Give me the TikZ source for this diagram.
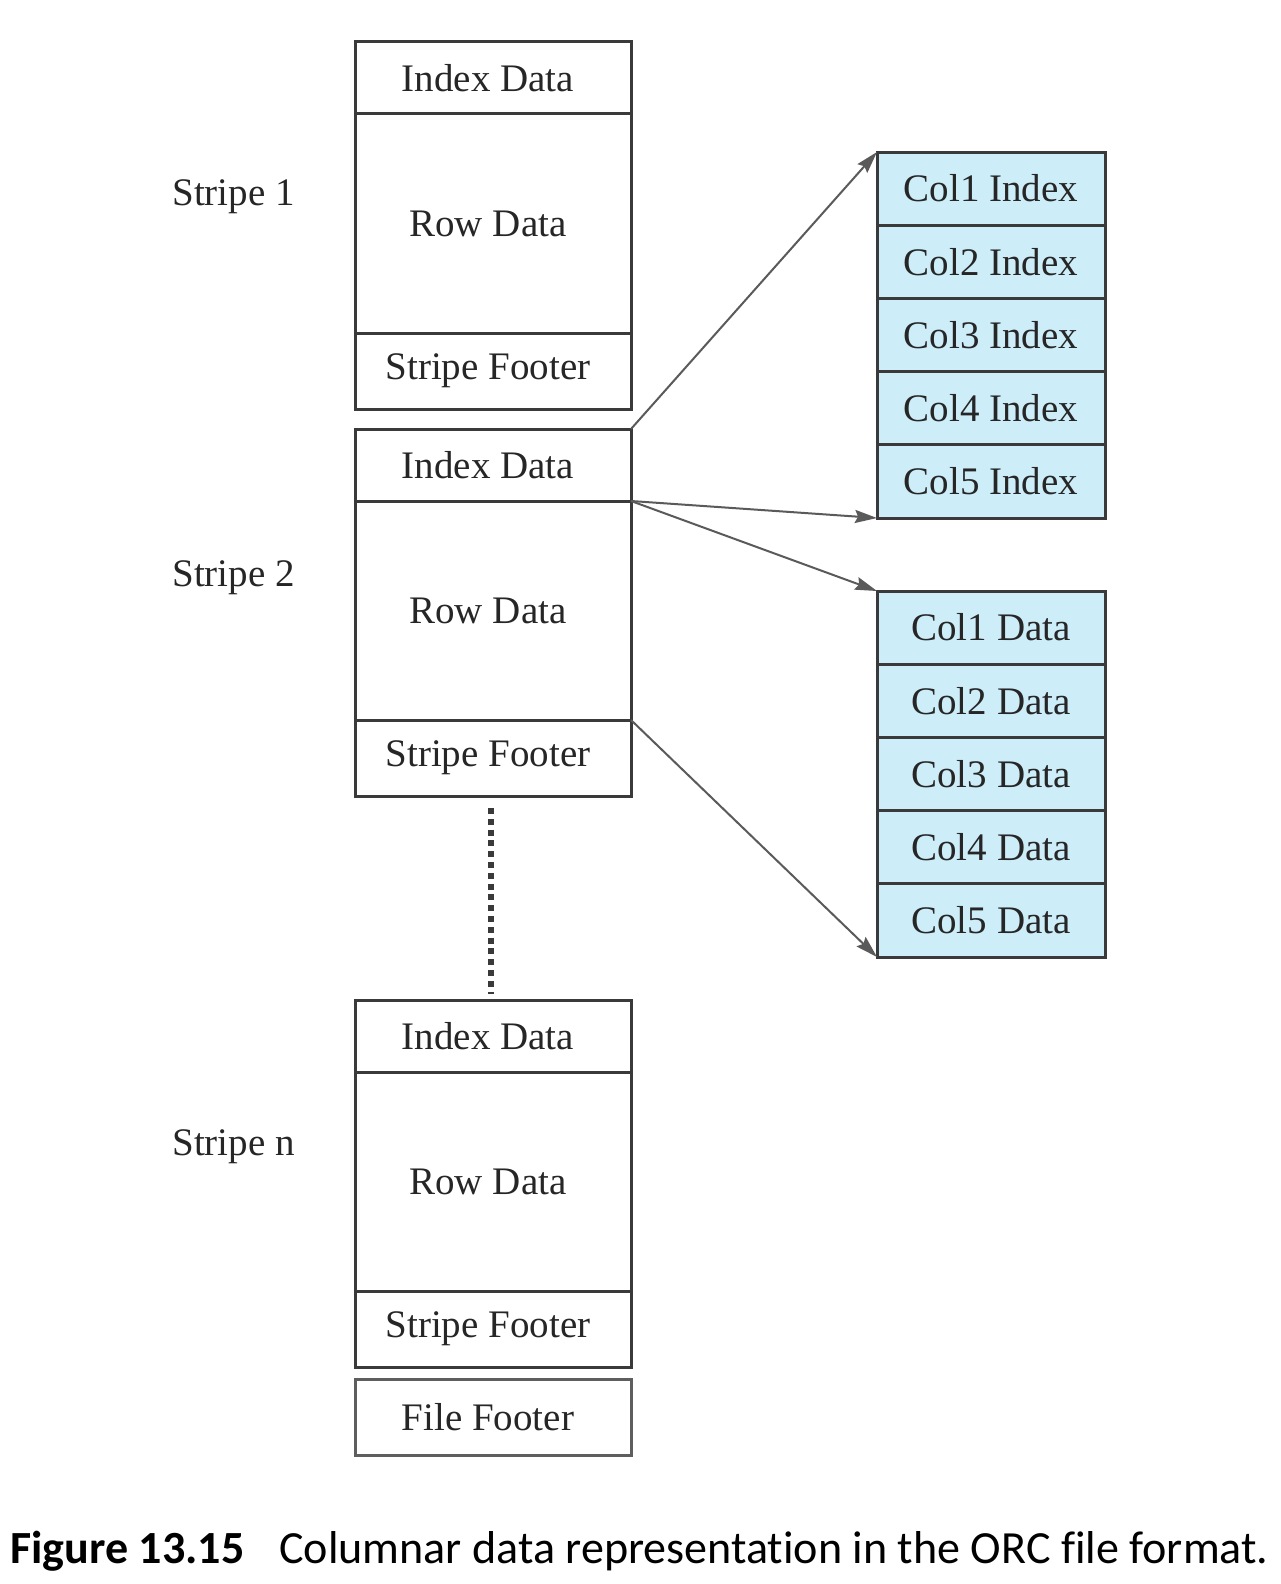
\documentclass[tikz,border=0pt]{standalone}
\usepackage{fontspec}
\setmainfont{Liberation Serif}
\newfontfamily\capfont[Ligatures={NoCommon}]{Carlito}
\usetikzlibrary{arrows.meta}
\definecolor{boxline}{HTML}{3A3A3A}
\definecolor{footline}{HTML}{5E5E5E}
\definecolor{cellblue}{HTML}{CDEDF9}
\definecolor{arrowgray}{HTML}{5A5A5A}
\definecolor{txt}{HTML}{262626}
\begin{document}
\begin{tikzpicture}[x=0.5pt,y=-0.5pt,
  cell/.style={draw=boxline, line width=1.5pt, anchor=north west, inner sep=0pt,
    outer sep=0pt, minimum width=138pt, text=txt, font=\fontsize{19.5}{22}\selectfont},
  leftcell/.style={cell, execute at begin node={\kern-5pt}},
  idxcell/.style={leftcell, minimum height=36pt},
  rowcell/.style={leftcell, minimum height=109.5pt},
  footcell/.style={leftcell, minimum height=38pt},
  colcell/.style={cell, fill=cellblue, minimum width=114pt, minimum height=36.6pt},
  stripelabel/.style={anchor=west, inner sep=0pt, text=txt, font=\fontsize{19.5}{22}\selectfont},
  conn/.style={draw=arrowgray, line width=1pt,
    -{Stealth[length=11pt,width=6.5pt,inset=1.5pt]}, fill=arrowgray},
  dots/.style={draw=boxline, line width=2.6pt, dash pattern=on 3pt off 2.4pt}
]
\useasboundingbox (0,0) rectangle (1280,1584);

% Stripe 1
\node[idxcell] (s1idx) at (355,42) {Index Data};
\node[rowcell] (s1row) at (355,114) {Row Data};
\node[footcell] (s1foot) at (355,333) {Stripe Footer};
% Stripe 2
\node[idxcell] (s2idx) at (355,429) {Index Data};
\node[rowcell] (s2row) at (355,501) {Row Data};
\node[footcell] (s2foot) at (355,720) {Stripe Footer};
% Stripe n
\node[idxcell] (snidx) at (355,1000) {Index Data};
\node[rowcell] (snrow) at (355,1072) {Row Data};
\node[footcell] (snfoot) at (355,1291) {Stripe Footer};
% File footer
\node[footcell, draw=footline] (ffoot) at (355,1379) {File Footer};

% Stripe labels
\node[stripelabel] (l1) at (172,197) {Stripe 1};
\node[stripelabel] (l2) at (172,578) {Stripe 2};
\node[stripelabel] (ln) at (172,1147) {Stripe n};

% Column index cells
\node[colcell] (ci1) at (877,152) {Col1 Index};
\node[colcell] (ci2) at (877,225.2) {Col2 Index};
\node[colcell] (ci3) at (877,298.4) {Col3 Index};
\node[colcell] (ci4) at (877,371.6) {Col4 Index};
\node[colcell] (ci5) at (877,444.8) {Col5 Index};

% Column data cells
\node[colcell] (cd1) at (877,591) {Col1 Data};
\node[colcell] (cd2) at (877,664.2) {Col2 Data};
\node[colcell] (cd3) at (877,737.4) {Col3 Data};
\node[colcell] (cd4) at (877,810.6) {Col4 Data};
\node[colcell] (cd5) at (877,883.8) {Col5 Data};

% Connectors
\draw[conn] (s2idx.north east) -- (ci1.north west);
\draw[conn] (s2idx.south east) -- (ci5.south west);
\draw[conn] (s2idx.south east) -- (cd1.north west);
\draw[conn] (s2row.south east) -- (cd5.south west);

% Dotted continuation
\draw[dots, shorten <=6pt, shorten >=3pt] ([xshift=-1pt]s2foot.south) -- ([xshift=-1pt]snidx.north);

% Caption
\node[anchor=base west, inner sep=0pt] (cap) at (10,1563)
  {\resizebox{629pt}{!}{\capfont\textbf{Figure 13.15}\hspace{0.75em}Columnar data representation in the ORC file format.}};
\end{tikzpicture}
\end{document}
